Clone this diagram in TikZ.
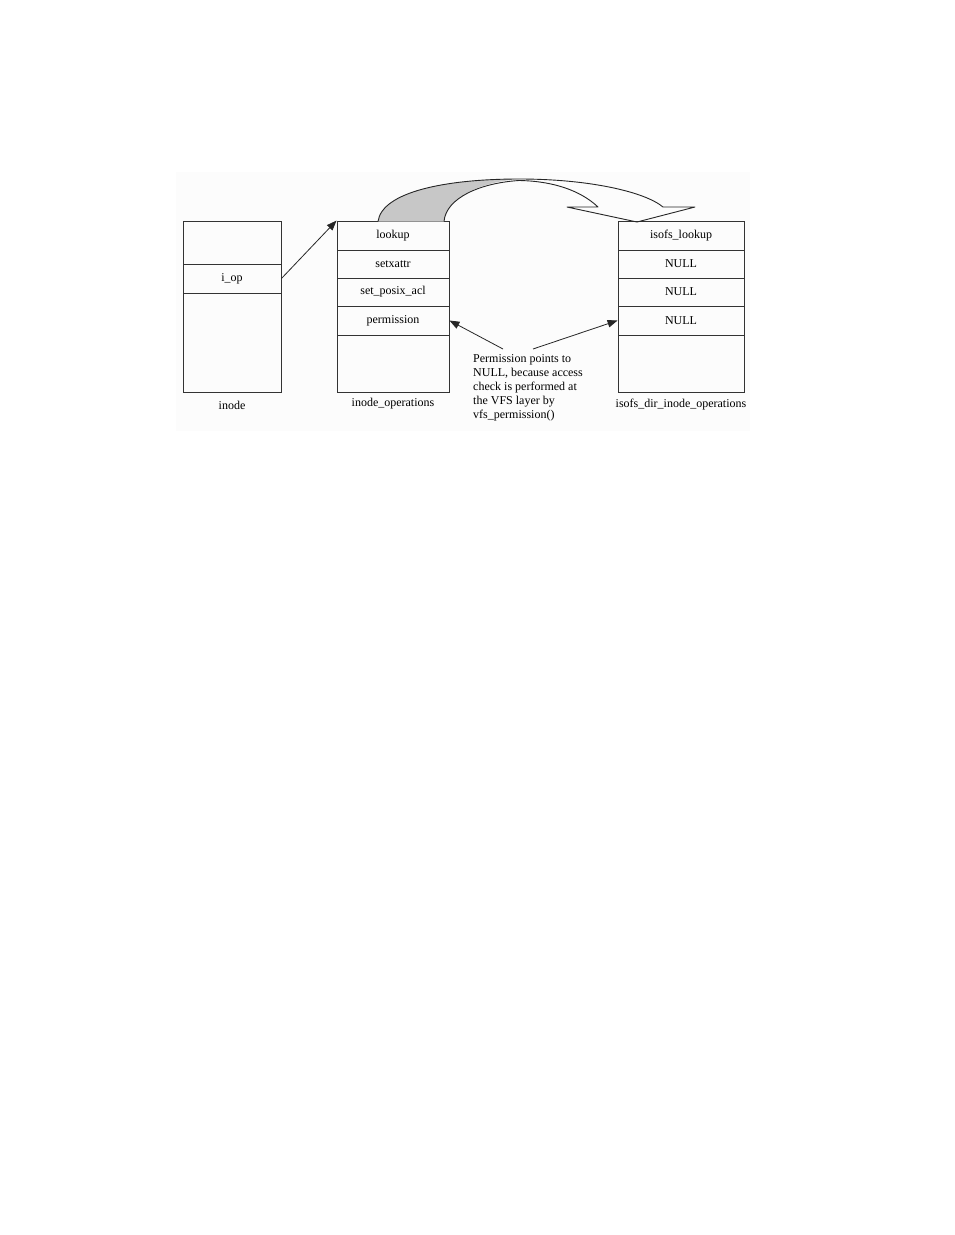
\documentclass[tikz,border=0pt]{standalone}
\usepackage{fontspec}
\setmainfont{Liberation Serif}
\usetikzlibrary{arrows.meta}
\begin{document}
\begin{tikzpicture}[x=1pt,y=-1pt,
  cell/.style={draw=black!80,line width=0.9pt,rectangle,inner sep=0pt,font=\fontsize{12}{14.2}\selectfont},
  lbl/.style={font=\fontsize{12}{14.2}\selectfont,inner sep=0pt},
  ptr/.style={draw=black!85,line width=0.8pt,-{Triangle[length=10pt,width=7.5pt]}},
  ribbon/.style={draw=black!85,line width=0.9pt,line join=round}]
\useasboundingbox (0,0) rectangle (954,1235);
\fill[black!1] (176,172) rectangle (750,431);
% inode
\node[cell,minimum width=98pt,minimum height=43pt] (in1) at (232,242.5) {};
\node[cell,minimum width=98pt,minimum height=29pt] (iop) at (232,278.5) {i\_op};
\node[cell,minimum width=98pt,minimum height=99pt] (in3) at (232,342.5) {};
\node[lbl] (linode) at (232,405) {inode};
% inode_operations
\node[cell,minimum width=112pt,minimum height=29pt] (lookup) at (393,235.5) {lookup};
\node[cell,minimum width=112pt,minimum height=28pt] (setx) at (393,264) {setxattr};
\node[cell,minimum width=112pt,minimum height=28pt] (spa) at (393,292) {set\_posix\_acl};
\node[cell,minimum width=112pt,minimum height=29pt] (perm) at (393,320.5) {permission};
\node[cell,minimum width=112pt,minimum height=57pt] (ope) at (393,363.5) {};
\node[lbl] (lops) at (393,404) {inode\_operations};
% isofs
\node[cell,minimum width=126pt,minimum height=29pt] (ilook) at (681,235.5) {isofs\_lookup};
\node[cell,minimum width=126pt,minimum height=28pt] (n1) at (681,264) {NULL};
\node[cell,minimum width=126pt,minimum height=28pt] (n2) at (681,292) {NULL};
\node[cell,minimum width=126pt,minimum height=29pt] (n3) at (681,320.5) {NULL};
\node[cell,minimum width=126pt,minimum height=57pt] (ie) at (681,363.5) {};
\node[lbl] (lisofs) at (681,405) {isofs\_dir\_inode\_operations};
% note
\node[lbl,anchor=north west,align=left] (note) at (473,354) {Permission points to\\NULL, because access\\check is performed at\\the VFS layer by\\vfs\_permission()};
\coordinate (a1) at (503,349);
\coordinate (a2) at (533,349);
% pointers
\draw[ptr] (iop.east) -- (lookup.north west);
\draw[ptr] (a1) -- (perm.east);
\draw[ptr] (a2) -- (n3.west);
% curved ribbon arrow
\coordinate (c1) at (378,221.5);
\coordinate (c2) at (444,221.5);
\fill[black!22] (c1) .. controls (382,192) and (445,179) .. (519,179)
  .. controls (480,182) and (446,198) .. (c2) -- cycle;
\draw[ribbon] (c1) .. controls (382,192) and (445,179) .. (519,179)
  .. controls (590,179) and (645,192) .. (663,207) -- (695,207) -- (637,222)
  -- (567,207) -- (598,207) .. controls (580,190) and (552,181) .. (519,180.5)
  .. controls (480,183) and (446,198) .. (c2);
\end{tikzpicture}
\end{document}
